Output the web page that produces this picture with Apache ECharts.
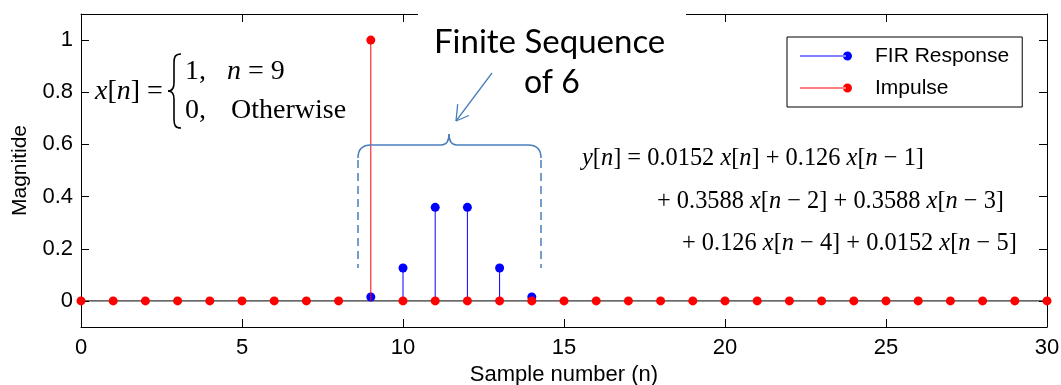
<!DOCTYPE html>
<html>
<head>
<meta charset="utf-8">
<script src="https://cdn.jsdelivr.net/npm/echarts@6/dist/echarts.min.js"></script>
<style>
  html, body { margin: 0; padding: 0; background: #fff; }
  #chart { width: 1061px; height: 385px; }
</style>
</head>
<body>
<div id="chart"></div>
<script>
// Data
const sampleN = [0, 1, 2, 3, 4, 5, 6, 7, 8, 9, 10, 11, 12, 13, 14, 15,
  16, 17, 18, 19, 20, 21, 22, 23, 24, 25, 26, 27, 28, 29, 30];
const impulseValues = [0, 0, 0, 0, 0, 0, 0, 0, 0, 1, 0, 0, 0, 0, 0, 0,
  0, 0, 0, 0, 0, 0, 0, 0, 0, 0, 0, 0, 0, 0, 0];
const firN = [9, 10, 11, 12, 13, 14];
const firValues = [0.0152, 0.126, 0.3588, 0.3588, 0.126, 0.0152];
const baselineN = [0, 30];
const baselineValues = [0, 0];

const sans = 'Liberation Sans, Arial, sans-serif';
const serif = 'Liberation Serif, Times New Roman, serif';
const noteFont = 'Lato, Open Sans, sans-serif';
const noteBlue = '#4a7ebb';

// MATLAB-like stem: thin line from 0 to value and a filled dot on top
function stemRenderer(color) {
  return function (params, api) {
    const base = api.coord([api.value(0), 0]);
    const top = api.coord([api.value(0), api.value(1)]);
    return {
      type: 'group',
      children: [
        { type: 'line', shape: { x1: base[0], y1: base[1], x2: top[0], y2: top[1] },
          style: { stroke: color, lineWidth: 1 } },
        { type: 'circle', shape: { cx: top[0], cy: top[1], r: 4.5 }, style: { fill: color } }
      ]
    };
  };
}

// legend icon: short line ending in a dot
const stemIcon = 'path://M0,4.5h46v1h-46z M43,5a4.5,4.5 0 1,0 9,0a4.5,4.5 0 1,0 -9,0z';

const axisCommon = {
  axisLine: { show: true, onZero: false, lineStyle: { color: '#000', width: 1 } },
  axisTick: { show: true, inside: true, length: 8, lineStyle: { color: '#000' } },
  splitLine: { show: false }
};
const labelStyle = { fontFamily: sans, fontSize: 22, color: '#000' };

// drawing helpers for the annotations
function seg(x1, y1, x2, y2, color, w, dash) {
  return { type: 'line', z: 100, shape: { x1: x1, y1: y1, x2: x2, y2: y2 },
    style: { stroke: color, lineWidth: w, lineDash: dash || null } };
}
function curve(x1, y1, c1x, c1y, c2x, c2y, x2, y2, color, w) {
  const shape = { x1: x1, y1: y1, x2: x2, y2: y2, cpx1: c1x, cpy1: c1y };
  if (c2x != null) { shape.cpx2 = c2x; shape.cpy2 = c2y; }
  return { type: 'bezierCurve', z: 100, shape: shape,
    style: { stroke: color, lineWidth: w, fill: null } };
}
function eqText(x, y, text, size) {
  return {
    type: 'text', x: x, y: y, z: 100,
    style: {
      text: text, fontFamily: serif, fontSize: size, fill: '#000',
      align: 'left', verticalAlign: 'middle',
      rich: { i: { fontFamily: serif, fontSize: size, fontStyle: 'italic', fill: '#000' } }
    }
  };
}
function plainText(x, y, text, font, size) {
  return {
    type: 'text', x: x, y: y, z: 100,
    style: { text: text, fontFamily: font, fontSize: size, fill: '#000',
      align: 'left', verticalAlign: 'middle' }
  };
}

const chart = echarts.init(document.getElementById('chart'));

const option = {
  animation: false,
  grid: { left: 81, right: 14, top: 14, bottom: 58, outerBoundsMode: 'none' },
  xAxis: [
    Object.assign({
      type: 'value', min: 0, max: 30, interval: 5, position: 'bottom',
      axisLabel: Object.assign({ margin: 10 }, labelStyle),
      name: 'Sample number (n)', nameLocation: 'middle', nameGap: 33,
      nameTextStyle: labelStyle
    }, axisCommon),
    Object.assign({
      type: 'value', min: 0, max: 30, interval: 5, position: 'top',
      axisLabel: { show: false }
    }, axisCommon)
  ],
  yAxis: [
    Object.assign({
      type: 'value', min: -0.1, max: 1.1, position: 'left',
      axisLabel: Object.assign({
        margin: 8, showMinLabel: false, showMaxLabel: false,
        formatter: function (v) {
          if (v < -0.05 || v > 1.05) return '';
          return String(Math.round(v * 10) / 10);
        }
      }, labelStyle),
      name: 'Magnitide', nameLocation: 'middle', nameGap: 50,
      nameTextStyle: Object.assign({}, labelStyle, { fontSize: 21 })
    }, axisCommon),
    Object.assign({
      type: 'value', min: -0.1, max: 1.1, position: 'right',
      axisLabel: { show: false }
    }, axisCommon)
  ],
  legend: {
    orient: 'vertical', left: 787, top: 37,
    padding: [8, 13, 8, 13], itemGap: 10, itemWidth: 52, itemHeight: 9,
    borderColor: '#000', borderWidth: 1, backgroundColor: '#fff',
    textStyle: { fontFamily: sans, fontSize: 21, color: '#000', lineHeight: 22,
      padding: [0, 0, 0, 18] },
    data: [
      { name: 'FIR Response', icon: stemIcon, itemStyle: { color: '#0000ff' } },
      { name: 'Impulse', icon: stemIcon, itemStyle: { color: '#ff0000' } }
    ]
  },
  series: [
    {
      name: 'baseline', type: 'line', silent: true, z: 2,
      data: baselineN.map((n, i) => [n, baselineValues[i]]),
      symbol: 'none', lineStyle: { color: '#000', width: 1 }
    },
    {
      name: 'FIR Response', type: 'custom', z: 3,
      itemStyle: { color: '#0000ff' },
      renderItem: stemRenderer('#0000ff'),
      encode: { x: 0, y: 1 },
      data: firN.map((n, i) => [n, firValues[i]])
    },
    {
      name: 'Impulse', type: 'custom', z: 4,
      itemStyle: { color: '#ff0000' },
      renderItem: stemRenderer('#ff0000'),
      encode: { x: 0, y: 1 },
      data: sampleN.map((n, i) => [n, impulseValues[i]])
    }
  ],
  graphic: [
    // white box behind the note text hides part of the top border
    { type: 'rect', z: 90, shape: { x: 418, y: 0, width: 268, height: 24 },
      style: { fill: '#fff' } },
    plainText(434, 42, 'Finite Sequence', noteFont, 33),
    plainText(524, 83, 'of 6', noteFont, 32),
    // arrow
    seg(492, 73, 456, 121, noteBlue, 1.3),
    seg(457.7, 104.1, 456, 121, noteBlue, 1.3),
    seg(468.9, 115.5, 456, 121, noteBlue, 1.3),
    // curly brace over the six samples
    curve(358, 158, 358, 145, null, null, 371, 145, noteBlue, 1.5),
    seg(371, 145, 441, 145, noteBlue, 1.5),
    curve(441, 145, 449, 145, null, null, 449, 134, noteBlue, 1.5),
    curve(449, 134, 449, 145, null, null, 457, 145, noteBlue, 1.5),
    seg(457, 145, 528, 145, noteBlue, 1.5),
    curve(528, 145, 541, 145, null, null, 541, 158, noteBlue, 1.5),
    seg(358, 160, 358, 268, noteBlue, 1.5, [8, 5]),
    seg(541, 160, 541, 268, noteBlue, 1.5, [8, 5]),
    // x[n] definition
    eqText(95, 92, '{i|x}[{i|n}] =', 28),
    curve(181, 54, 175, 54, 174, 57, 174, 63, '#000', 1.6),
    seg(174, 63, 174, 83, '#000', 1.6),
    curve(174, 83, 174, 88, 172, 91, 168, 91, '#000', 1.6),
    curve(168, 91, 172, 91, 174, 94, 174, 99, '#000', 1.6),
    seg(174, 99, 174, 119, '#000', 1.6),
    curve(174, 119, 174, 125, 175, 128, 181, 128, '#000', 1.6),
    eqText(185, 72, '1,', 28),
    eqText(227, 72, '{i|n} = 9', 28),
    eqText(185, 111, '0,', 28),
    eqText(231, 111, 'Otherwise', 28),
    // difference equation
    eqText(582, 159, '{i|y}[{i|n}] = 0.0152 {i|x}[{i|n}] + 0.126 {i|x}[{i|n} \u2212 1]', 24.4),
    eqText(657, 202, '+ 0.3588 {i|x}[{i|n} \u2212 2] + 0.3588 {i|x}[{i|n} \u2212 3]', 24.4),
    eqText(682, 244, '+ 0.126 {i|x}[{i|n} \u2212 4] + 0.0152 {i|x}[{i|n} \u2212 5]', 24.4)
  ]
};

chart.setOption(option);
window.addEventListener('resize', () => chart.resize());
</script>
</body>
</html>
